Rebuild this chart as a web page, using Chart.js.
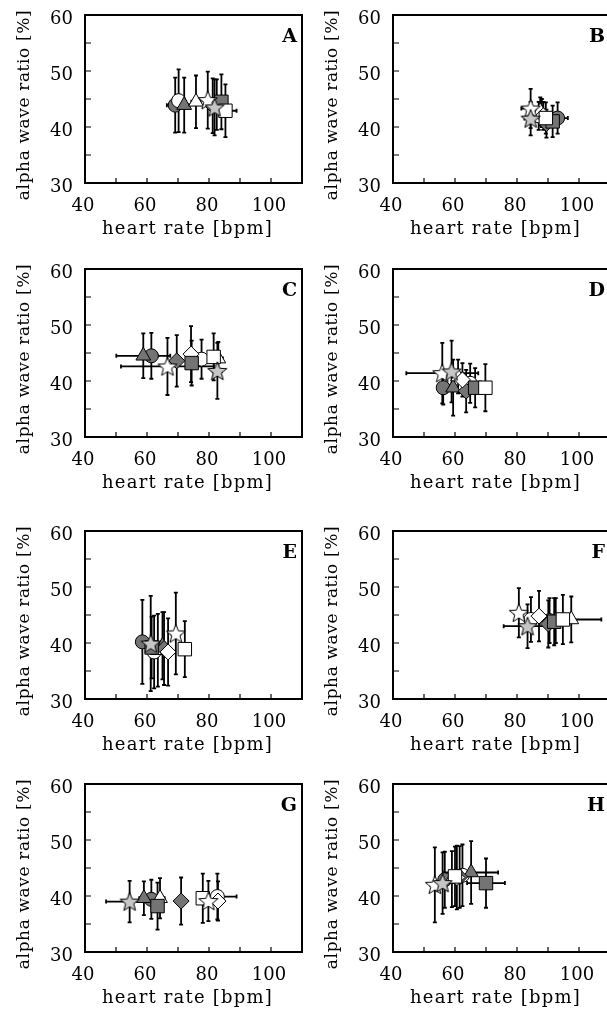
<!DOCTYPE html>
<html>
<head>
<meta charset="utf-8">
<script src="https://cdn.jsdelivr.net/npm/chart.js@4.4.1/dist/chart.umd.min.js"></script>
<style>
html, body { margin: 0; padding: 0; background: #fff; overflow: hidden; width: 607px; height: 1012px; position: relative; }
.panel { position: absolute; width: 313px; height: 253px; }
</style>
</head>
<body>
<div class="panel" style="left:0;top:0"><canvas id="pA" width="313" height="253"></canvas></div>
<div class="panel" style="left:308px;top:0"><canvas id="pB" width="313" height="253"></canvas></div>
<div class="panel" style="left:0;top:254px"><canvas id="pC" width="313" height="253"></canvas></div>
<div class="panel" style="left:308px;top:254px"><canvas id="pD" width="313" height="253"></canvas></div>
<div class="panel" style="left:0;top:516px"><canvas id="pE" width="313" height="253"></canvas></div>
<div class="panel" style="left:308px;top:516px"><canvas id="pF" width="313" height="253"></canvas></div>
<div class="panel" style="left:0;top:769px"><canvas id="pG" width="313" height="253"></canvas></div>
<div class="panel" style="left:308px;top:769px"><canvas id="pH" width="313" height="253"></canvas></div>
<script>
// marker order: dark/white circle, triangle, diamond, square, white and grey star
const markerKinds = ['circD', 'circW', 'triD', 'triW', 'diaD', 'diaW', 'sqD', 'sqW', 'starW', 'starG'];

const xTickLabels = [40, 60, 80, 100];
const yTickLabels = [30, 40, 50, 60];
const panelLetters = ['A', 'B', 'C', 'D', 'E', 'F', 'G', 'H'];

// A
const hrA       = [69.1, 70.2, 72.0, 75.8, 81.2, 82.5, 84.0, 85.3, 79.6, 81.8];
const alphaA    = [43.9, 44.7, 43.9, 44.5, 43.8, 44.0, 44.5, 42.9, 44.8, 43.5];
const hrErrA    = [2.7, 1.5, 1.5, 1.5, 1.5, 1.5, 1.5, 3.6, 1.5, 1.5];
const alphaErrA = [4.9, 5.6, 4.9, 4.7, 4.9, 4.5, 4.9, 4.7, 5.1, 5.0];
// B
const hrB       = [93.1, 87.0, 88.0, 87.5, 89.5, 88.5, 91.5, 89.3, 84.4, 84.4];
const alphaB    = [41.6, 42.0, 42.5, 42.8, 40.6, 42.0, 41.0, 41.6, 43.3, 41.5];
const hrErrB    = [3.3, 1.5, 1.5, 1.5, 1.5, 1.5, 1.5, 1.5, 3.0, 2.0];
const alphaErrB = [2.8, 2.5, 2.5, 2.5, 2.5, 2.5, 2.8, 2.8, 3.5, 3.0];
// C
const hrC       = [61.4, 77.6, 58.8, 83.0, 69.6, 74.2, 74.4, 81.5, 66.6, 82.7];
const alphaC    = [44.5, 43.9, 44.5, 44.0, 43.6, 44.8, 43.2, 44.3, 42.6, 41.8];
const hrErrC    = [2.0, 1.5, 8.7, 1.5, 1.5, 1.5, 1.5, 1.5, 15.0, 1.5];
const alphaErrC = [4.1, 3.5, 4.0, 3.0, 4.6, 5.0, 4.0, 4.2, 5.1, 5.0];
// D
const hrD       = [56.2, 64.9, 59.4, 61.0, 63.6, 62.4, 66.5, 69.8, 55.9, 58.9];
const alphaD    = [38.8, 39.6, 38.8, 40.8, 38.2, 40.2, 38.8, 38.8, 41.4, 41.7];
const hrErrD    = [1.5, 1.5, 1.5, 1.5, 1.5, 1.5, 1.5, 1.5, 11.6, 1.5];
const alphaErrD = [3.0, 3.5, 5.0, 3.0, 3.8, 3.0, 3.5, 4.2, 5.4, 5.5];
// E
const hrE       = [58.5, 62.3, 65.0, 63.5, 65.5, 66.8, 61.5, 72.2, 69.3, 61.2];
const alphaE    = [40.2, 38.4, 39.5, 38.7, 39.0, 38.4, 39.2, 38.9, 41.7, 39.9];
const hrErrE    = [1.5, 1.5, 1.5, 1.5, 1.5, 1.5, 1.5, 1.5, 1.5, 1.5];
const alphaErrE = [7.5, 6.5, 6.0, 6.5, 6.5, 6.0, 5.5, 5.0, 7.3, 8.5];
// F
const hrF       = [90.5, 84.5, 92.5, 97.5, 90.1, 87.1, 92.0, 94.8, 80.6, 83.4];
const alphaF    = [44.0, 44.2, 44.0, 44.2, 43.4, 44.8, 43.8, 44.2, 45.4, 43.0];
const hrErrF    = [1.5, 1.5, 1.5, 9.7, 1.5, 1.5, 1.5, 1.5, 1.5, 7.7];
const alphaErrF = [4.0, 4.0, 4.0, 4.1, 4.2, 4.5, 4.2, 4.4, 4.4, 3.9];
// G
const hrG       = [61.4, 82.7, 59.0, 64.2, 71.0, 82.9, 63.4, 78.0, 79.8, 54.4];
const alphaG    = [39.4, 39.9, 39.6, 39.6, 39.1, 39.1, 38.2, 39.6, 39.1, 39.0];
const hrErrG    = [1.5, 6.2, 1.5, 1.5, 1.5, 1.5, 1.5, 1.5, 1.5, 7.6];
const alphaErrG = [3.5, 4.1, 3.0, 3.6, 4.2, 3.5, 4.2, 4.4, 3.6, 3.7];
// H
const hrH       = [56.7, 62.4, 65.2, 59.0, 61.5, 60.6, 70.0, 60.0, 53.5, 56.0];
const alphaH    = [42.9, 43.7, 44.2, 43.0, 43.4, 43.3, 42.3, 43.5, 42.0, 42.3];
const hrErrH    = [1.5, 1.5, 8.7, 1.5, 1.5, 1.5, 6.1, 1.5, 1.5, 1.5];
const alphaErrH = [5.0, 5.5, 5.6, 5.0, 5.5, 5.7, 4.4, 5.3, 6.7, 5.5];

const DARK = '#747474';
const LIGHT = '#c6c6c6';
const serif = '"DejaVu Serif", "Liberation Serif", serif';

// filled five-point star used as a point style
function starImage(fill) {
	const c = document.createElement('canvas');
	c.width = 22; c.height = 22;
	const g = c.getContext('2d');
	g.beginPath();
	for (let k = 0; k < 10; k++) {
		const r = k % 2 ? 4.3 : 10;
		const a = -Math.PI / 2 + k * Math.PI / 5;
		g.lineTo(11 + r * Math.cos(a), 11.8 + r * Math.sin(a));
	}
	g.closePath();
	g.fillStyle = fill;
	g.fill();
	g.lineWidth = 1;
	g.strokeStyle = '#000';
	g.stroke();
	return c;
}
const starWhite = starImage('#ffffff');
const starGrey = starImage(LIGHT);

function markerStyle(kind) {
	const fill = kind.endsWith('D') ? DARK : '#ffffff';
	if (kind.startsWith('circ')) return { pointStyle: 'circle', pointRadius: 7, backgroundColor: fill };
	if (kind.startsWith('tri')) return { pointStyle: 'triangle', pointRadius: 8.5, backgroundColor: fill };
	if (kind.startsWith('dia')) return { pointStyle: 'rectRot', pointRadius: 8, backgroundColor: fill };
	if (kind.startsWith('sq')) return { pointStyle: 'rect', pointRadius: 9.5, backgroundColor: fill };
	if (kind === 'starW') return { pointStyle: starWhite, pointRadius: 10, backgroundColor: '#fff' };
	return { pointStyle: starGrey, pointRadius: 10, backgroundColor: LIGHT };
}

// error bars in both directions, drawn under the markers
const errorBarPlugin = {
	id: 'errorBars',
	beforeDatasetsDraw(chart) {
		const ctx = chart.ctx;
		const xs = chart.scales.x, ys = chart.scales.y;
		ctx.save();
		ctx.strokeStyle = '#000';
		ctx.lineWidth = 1.8;
		chart.data.datasets.forEach(ds => {
			const p = ds.data[0];
			const cx = xs.getPixelForValue(p.x), cy = ys.getPixelForValue(p.y);
			const x0 = xs.getPixelForValue(p.x - ds.xErr), x1 = xs.getPixelForValue(p.x + ds.xErr);
			const y0 = ys.getPixelForValue(p.y - ds.yErr), y1 = ys.getPixelForValue(p.y + ds.yErr);
			ctx.beginPath();
			ctx.moveTo(x0, cy); ctx.lineTo(x1, cy);
			ctx.moveTo(x0, cy - 2); ctx.lineTo(x0, cy + 2);
			ctx.moveTo(x1, cy - 2); ctx.lineTo(x1, cy + 2);
			ctx.moveTo(cx, y0); ctx.lineTo(cx, y1);
			ctx.moveTo(cx - 2, y0); ctx.lineTo(cx + 2, y0);
			ctx.moveTo(cx - 2, y1); ctx.lineTo(cx + 2, y1);
			ctx.stroke();
		});
		ctx.restore();
	}
};

// frame, inward ticks, axis titles and panel letter
const framePlugin = {
	id: 'frame',
	afterDraw(chart, args, opts) {
		const ctx = chart.ctx;
		const a = chart.chartArea;
		const xs = chart.scales.x, ys = chart.scales.y;
		ctx.save();
		ctx.strokeStyle = '#000';
		ctx.lineWidth = 1.2;
		ctx.beginPath();
		for (let v = 50; v <= 100; v += 10) {
			const px = xs.getPixelForValue(v);
			ctx.moveTo(px, a.bottom); ctx.lineTo(px, a.bottom - 5);
		}
		for (let v = 35; v <= 55; v += 5) {
			const py = ys.getPixelForValue(v);
			ctx.moveTo(a.left, py); ctx.lineTo(a.left + 6, py);
		}
		ctx.stroke();
		ctx.lineWidth = 2;
		ctx.strokeRect(a.left, a.top, a.right - a.left, a.bottom - a.top);

		ctx.fillStyle = '#000';
		ctx.font = 'bold 19px ' + serif;
		ctx.textAlign = 'right';
		ctx.textBaseline = 'alphabetic';
		ctx.fillText(opts.letter, a.right - 5, a.top + 27);

		ctx.font = '18px ' + serif;
		ctx.textAlign = 'center';
		ctx.textBaseline = 'middle';
		ctx.letterSpacing = '1.2px';
		ctx.fillText('heart rate [bpm]', (a.left + a.right) / 2 - 6, a.bottom + 46);

		ctx.font = '17px ' + serif;
		ctx.letterSpacing = '0.6px';
		ctx.translate(25, (a.top + a.bottom) / 2 + 6);
		ctx.rotate(-Math.PI / 2);
		ctx.fillText('alpha wave ratio [%]', 0, 0);
		ctx.restore();
	}
};

function makePanel(id, letter, hr, alpha, hrErr, alphaErr) {
	const n = markerKinds.length;
	const datasets = markerKinds.map((kind, i) => Object.assign({
		data: [{ x: hr[i], y: alpha[i] }],
		xErr: hrErr[i],
		yErr: alphaErr[i],
		order: n - i,
		borderColor: '#000',
		borderWidth: 1
	}, markerStyle(kind)));

	new Chart(document.getElementById(id), {
		type: 'scatter',
		data: { datasets: datasets },
		options: {
			responsive: false,
			animation: false,
			events: [],
			layout: { padding: { top: 15, right: 3, bottom: 0, left: 0 } },
			plugins: {
				legend: { display: false },
				tooltip: { enabled: false },
				frame: { letter: letter }
			},
			scales: {
				x: {
					type: 'linear',
					min: 40,
					max: 110,
					grid: { display: false, drawTicks: false },
					border: { display: false },
					ticks: {
						stepSize: 10,
						autoSkip: false,
						maxRotation: 0,
						padding: 13,
						labelOffset: -2,
						color: '#000',
						font: { family: serif, size: 18 },
						callback: v => xTickLabels.includes(v) ? String(v) : ''
					},
					afterFit: s => { s.height = 70; s.paddingLeft = 0; s.paddingRight = 0; }
				},
				y: {
					type: 'linear',
					min: 30,
					max: 60,
					grid: { display: false, drawTicks: false },
					border: { display: false },
					ticks: {
						stepSize: 5,
						autoSkip: false,
						padding: 12,
						labelOffset: 4,
						color: '#000',
						font: { family: serif, size: 18 },
						callback: v => yTickLabels.includes(v) ? String(v) : ''
					},
					afterFit: s => { s.width = 85; s.paddingTop = 0; s.paddingBottom = 0; }
				}
			}
		},
		plugins: [errorBarPlugin, framePlugin]
	});
}

makePanel('pA', panelLetters[0], hrA, alphaA, hrErrA, alphaErrA);
makePanel('pB', panelLetters[1], hrB, alphaB, hrErrB, alphaErrB);
makePanel('pC', panelLetters[2], hrC, alphaC, hrErrC, alphaErrC);
makePanel('pD', panelLetters[3], hrD, alphaD, hrErrD, alphaErrD);
makePanel('pE', panelLetters[4], hrE, alphaE, hrErrE, alphaErrE);
makePanel('pF', panelLetters[5], hrF, alphaF, hrErrF, alphaErrF);
makePanel('pG', panelLetters[6], hrG, alphaG, hrErrG, alphaErrG);
makePanel('pH', panelLetters[7], hrH, alphaH, hrErrH, alphaErrH);
</script>
</body>
</html>
